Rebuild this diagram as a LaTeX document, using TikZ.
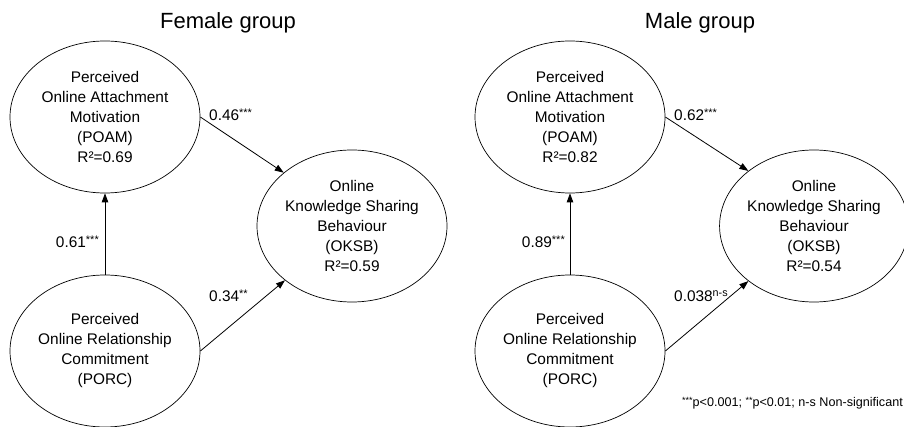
\documentclass[tikz,border=0pt]{standalone}
\usepackage{fontspec}
\setmainfont{Liberation Sans}
\usetikzlibrary{shapes.geometric,arrows.meta}
\newcommand{\sigstars}[1]{\raisebox{3.5pt}{\fontsize{11}{11}\selectfont #1}}
\newcommand{\notestars}[1]{\raisebox{3pt}{\fontsize{9}{9}\selectfont #1}}
\begin{document}
\begin{tikzpicture}[x=1pt,y=-1pt,
  latent/.style={draw, ellipse, line width=0.7pt, minimum width=190pt, minimum height=152pt, inner sep=0pt, align=center, font=\fontsize{15.4}{20}\selectfont},
  pathline/.style={draw, line width=0.8pt, -{Triangle[length=9pt,width=6.5pt]}},
  coef/.style={font=\fontsize{15.4}{18}\selectfont, inner sep=0pt},
  grouptitle/.style={font=\fontsize{22}{26}\selectfont, inner sep=0pt},
  note/.style={font=\fontsize{12.6}{14}\selectfont, inner sep=0pt}]
\useasboundingbox (0,0) rectangle (904,427);
% titles
\node[grouptitle] (tf) at (228,23) {Female group};
\node[grouptitle] (tm) at (700,23) {Male group};
% female group
\node[latent] (fPOAM) at (105,117) {Perceived\\Online Attachment\\Motivation\\(POAM)\\R²=0.69};
\node[latent] (fOKSB) at (352,226) {Online\\Knowledge Sharing\\Behaviour\\(OKSB)\\R²=0.59};
\node[latent] (fPORC) at (105,351) {Perceived\\Online Relationship\\Commitment\\(PORC)};
\draw[pathline] (fPOAM.east) -- (fOKSB.142);
\draw[pathline] (fPORC.east) -- (fOKSB.219);
\draw[pathline] (fPORC.north) -- (fPOAM.south);
\node[coef, anchor=west] (lf1) at (209,115) {0.46\sigstars{***}};
\node[coef, anchor=west] (lf2) at (209,296) {0.34\sigstars{**}};
\node[coef, anchor=east] (lf3) at (99,242) {0.61\sigstars{***}};
% male group
\node[latent] (mPOAM) at (570,117) {Perceived\\Online Attachment\\Motivation\\(POAM)\\R²=0.82};
\node[latent, minimum width=182pt] (mOKSB) at (814,226) {Online\\Knowledge Sharing\\Behaviour\\(OKSB)\\R²=0.54};
\node[latent] (mPORC) at (570,351) {Perceived\\Online Relationship\\Commitment\\(PORC)};
\draw[pathline] (mPOAM.east) -- (mOKSB.140);
\draw[pathline] (mPORC.east) -- (mOKSB.220);
\draw[pathline] (mPORC.north) -- (mPOAM.south);
\node[coef, anchor=west] (lm1) at (674,115) {0.62\sigstars{***}};
\node[coef, anchor=west] (lm2) at (674,296) {0.038\textsuperscript{n-s}};
\node[coef, anchor=east] (lm3) at (565,242) {0.89\sigstars{***}};
% footnote
\node[note, anchor=east] (fn) at (903,403) {\notestars{***}p<0.001; \notestars{**}p<0.01; n-s Non-significant};
\end{tikzpicture}
\end{document}
